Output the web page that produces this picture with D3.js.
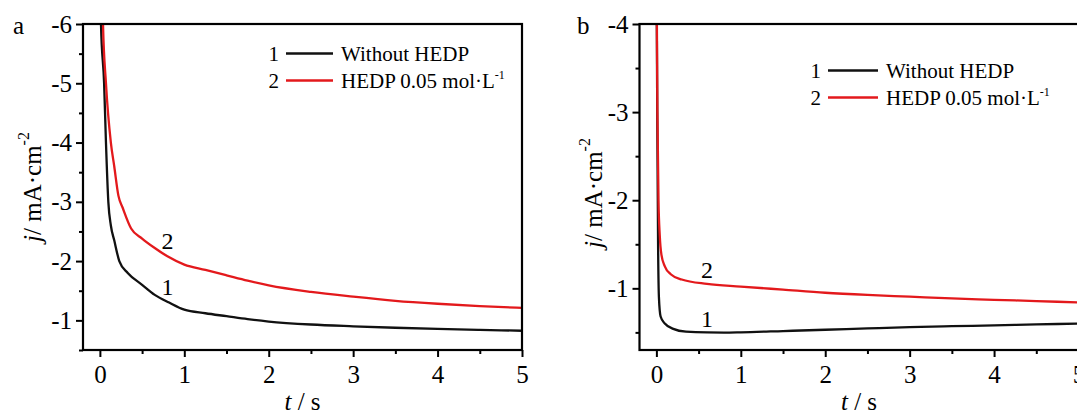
<!DOCTYPE html>
<html>
<head>
<meta charset="utf-8">
<script src="https://cdn.jsdelivr.net/npm/d3@7"></script>
<style>
	body { margin: 0; background: #fff; }
</style>
</head>
<body>
<svg id="chart" width="1077" height="414" font-family="Liberation Serif"></svg>
<script>
'use strict';

// ---- data ----

// panel a, curve 1 (without HEDP)
var tA1 = [0.005, 0.013, 0.05, 0.072, 0.10, 0.13, 0.17, 0.23, 0.33, 0.5, 0.65, 0.82, 1.0, 1.25, 1.5, 1.75, 2.0, 2.5, 3.0, 3.5, 4.0, 4.5, 5.0];
var jA1 = [-8, -6, -5, -4, -3, -2.6, -2.35, -2.0, -1.8, -1.6, -1.43, -1.3, -1.18, -1.12, -1.07, -1.02, -0.98, -0.93, -0.9, -0.875, -0.855, -0.84, -0.825];

// panel a, curve 2 (HEDP 0.05 mol/L)
var tA2 = [0.02, 0.037, 0.072, 0.13, 0.17, 0.22, 0.27, 0.37, 0.5, 0.65, 0.8, 1.0, 1.25, 1.5, 1.75, 2.0, 2.5, 3.0, 3.5, 4.0, 4.5, 5.0];
var jA2 = [-8, -6, -5, -4, -3.6, -3.1, -2.9, -2.55, -2.38, -2.22, -2.08, -1.94, -1.85, -1.76, -1.67, -1.59, -1.48, -1.4, -1.33, -1.28, -1.24, -1.21];

// panel b, curve 1
var tB1 = [0.0, 0.01, 0.02, 0.03, 0.05, 0.1, 0.2, 0.35, 0.6, 0.8, 1.0, 1.5, 2.0, 2.5, 3.0, 3.5, 4.0, 4.5, 5.0];
var jB1 = [-5, -3, -1.5, -0.9, -0.68, -0.6, -0.54, -0.508, -0.499, -0.498, -0.501, -0.515, -0.53, -0.545, -0.56, -0.57, -0.58, -0.59, -0.6];

// panel b, curve 2
var tB2 = [0.0, 0.012, 0.025, 0.04, 0.06, 0.1, 0.17, 0.3, 0.6, 1.0, 1.5, 2.0, 2.5, 3.0, 3.5, 4.0, 4.5, 5.0];
var jB2 = [-5, -3, -2, -1.6, -1.38, -1.25, -1.16, -1.1, -1.05, -1.02, -0.985, -0.95, -0.925, -0.905, -0.885, -0.87, -0.855, -0.84];

// ticks
var xTicks = [0, 1, 2, 3, 4, 5];
var xMinor = [0.5, 1.5, 2.5, 3.5, 4.5];
var yTicksA = [-6, -5, -4, -3, -2, -1];
var yMinorA = [-5.5, -4.5, -3.5, -2.5, -1.5, -0.5];
var yTicksB = [-4, -3, -2, -1];
var yMinorB = [-3.5, -2.5, -1.5, -0.5];

// legend / labels
var legendNames = ['Without HEDP', 'HEDP 0.05 mol\u00b7L'];
var curveNames = ['1', '2'];

var RED = '#e3191c', BLACK = '#111';
var FONT = 'Liberation Serif';

var svg = d3.select('#chart');
svg.append('rect').attr('width', 1077).attr('height', 414).attr('fill', '#fff');

// Draw one panel of the figure
function drawPanel(p) {

	var x = d3.scaleLinear().domain([-0.2, 5]).range([p.left, p.right]);
	var y = d3.scaleLinear().domain(p.yDomain).range([24, 350]);

	var g = svg.append('g').attr('font-family', FONT);

	// curves, clipped to the frame
	var clipId = 'clip-' + p.name;
	svg.append('clipPath').attr('id', clipId)
		.append('rect')
		.attr('x', p.left).attr('y', 24)
		.attr('width', p.right - p.left).attr('height', 326);

	var line = d3.line()
		.x(function(d) { return x(d[0]); })
		.y(function(d) { return y(d[1]); })
		.curve(d3.curveMonotoneX);

	p.series.forEach(function(s) {
		var pts = s.t.map(function(t, i) { return [t, s.j[i]]; });
		g.append('path')
			.attr('d', line(pts))
			.attr('clip-path', 'url(#' + clipId + ')')
			.attr('fill', 'none')
			.attr('stroke', s.color)
			.attr('stroke-width', 2.3)
			.attr('stroke-linejoin', 'round');
	});

	// axes
	var fmt = function(d) { return String(d); };

	var xAxis = g.append('g').attr('transform', 'translate(0,350)')
		.call(d3.axisBottom(x).tickValues(xTicks).tickSize(7).tickPadding(8).tickFormat(fmt));
	var xAxisMinor = g.append('g').attr('transform', 'translate(0,350)')
		.call(d3.axisBottom(x).tickValues(xMinor).tickSize(4).tickFormat(''));

	var yAxis = g.append('g').attr('transform', 'translate(' + p.left + ',0)')
		.call(d3.axisLeft(y).tickValues(p.yTicks).tickSize(7).tickPadding(4).tickFormat(fmt));
	var yAxisMinor = g.append('g').attr('transform', 'translate(' + p.left + ',0)')
		.call(d3.axisLeft(y).tickValues(p.yMinor).tickSize(4).tickFormat(''));

	[xAxis, xAxisMinor, yAxis, yAxisMinor].forEach(function(a) {
		a.attr('font-family', FONT).attr('font-size', 25);
		a.select('.domain').remove();
		a.selectAll('line').attr('stroke', '#000').attr('stroke-width', 2);
		a.selectAll('text').attr('fill', '#000');
	});

	// frame
	g.append('rect')
		.attr('x', p.left).attr('y', 24)
		.attr('width', p.right - p.left).attr('height', 326)
		.attr('fill', 'none').attr('stroke', '#000').attr('stroke-width', 2.2);

	// panel letter
	g.append('text').attr('x', p.letterX).attr('y', 34)
		.attr('font-size', 25).text(p.name);

	// y title
	var yt = g.append('text')
		.attr('transform', 'translate(' + p.yTitleX + ',' + p.yTitleY + ') rotate(-90)')
		.attr('text-anchor', 'middle').attr('font-size', 25);
	yt.append('tspan').attr('font-style', 'italic').text('j');
	yt.append('tspan').text('/ mA\u00b7cm');
	yt.append('tspan').attr('font-size', 16).attr('dy', -12).text('-2');

	// x title
	var xt = g.append('text')
		.attr('x', (p.left + p.right) / 2).attr('y', 410)
		.attr('text-anchor', 'middle').attr('font-size', 25);
	xt.append('tspan').attr('font-style', 'italic').text('t');
	xt.append('tspan').text(' / s');

	// legend
	p.series.forEach(function(s, i) {
		var by = p.legY + i * 27;
		g.append('text').attr('x', p.legX - 7).attr('y', by)
			.attr('text-anchor', 'end').attr('font-size', 21).text(curveNames[i]);
		g.append('line')
			.attr('x1', p.legX).attr('x2', p.legX + p.legLen)
			.attr('y1', by - 7.5).attr('y2', by - 7.5)
			.attr('stroke', s.color).attr('stroke-width', 2.5);
		var lt = g.append('text').attr('x', p.legX + p.legLen + 8).attr('y', by)
			.attr('font-size', 21).text(legendNames[i]);
		if (i === 1)
			lt.append('tspan').attr('font-size', 12).attr('dy', -9).text('-1');
	});

	// curve numbers
	p.series.forEach(function(s, i) {
		g.append('text')
			.attr('x', x(s.label[0])).attr('y', y(s.label[1]))
			.attr('text-anchor', 'middle').attr('font-size', 24)
			.text(curveNames[i]);
	});
}

drawPanel({
	name: 'a', left: 83, right: 522, yDomain: [-6, -0.5],
	yTicks: yTicksA, yMinor: yMinorA,
	letterX: 13, yTitleX: 41, yTitleY: 187,
	legX: 286, legY: 61, legLen: 47,
	series: [
		{ t: tA1, j: jA1, color: BLACK, label: [0.8, -1.43] },
		{ t: tA2, j: jA2, color: RED, label: [0.8, -2.2] }
	]
});

drawPanel({
	name: 'b', left: 639.5, right: 1078.5, yDomain: [-4, -0.3],
	yTicks: yTicksB, yMinor: yMinorB,
	letterX: 577, yTitleX: 602, yTitleY: 193,
	legX: 828, legY: 78, legLen: 50,
	series: [
		{ t: tB1, j: jB1, color: BLACK, label: [0.6, -0.56] },
		{ t: tB2, j: jB2, color: RED, label: [0.6, -1.12] }
	]
});
</script>
</body>
</html>
